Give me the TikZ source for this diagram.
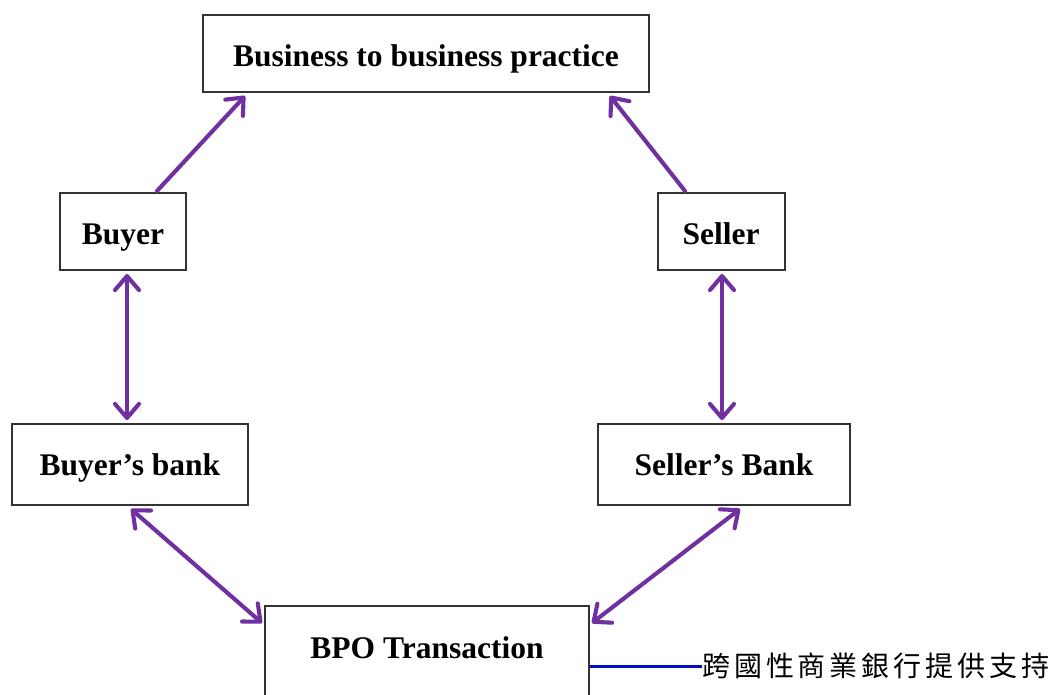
\documentclass[tikz,border=0pt]{standalone}
\usepackage{fontspec}
\setmainfont{Liberation Serif}
\newfontfamily\cjk[LetterSpace=14]{Noto Sans CJK TC}
\usetikzlibrary{arrows.meta}
\definecolor{arrpurple}{HTML}{7030A0}
\definecolor{linkblue}{HTML}{0010C0}
\tikzset{
  box/.style={draw=black!80, line width=1.3pt, fill=white},
  lbl/.style={anchor=base, inner sep=0pt, font=\fontsize{31.5}{34}\selectfont\bfseries},
  conn/.style={draw=arrpurple, line width=4.1pt, line cap=round, arrows={-Straight Barb[length=14pt,width=24pt,line cap=round,line join=round]}},
  dconn/.style={conn, arrows={Straight Barb[length=14pt,width=24pt,line cap=round,line join=round]-Straight Barb[length=14pt,width=24pt,line cap=round,line join=round]}},
}
\begin{document}
\begin{tikzpicture}[x=1pt,y=-1pt]
\useasboundingbox (0,0) rectangle (1055,695);
\draw[box] (203,15) rectangle (649,92);
\node[lbl] (top) at (426,67) {Business to business practice};
\coordinate (topL) at (245,96);
\coordinate (topR) at (610,96);
\draw[box] (60,193) rectangle (186,270);
\node[lbl] (buyer) at (123,245) {Buyer};
\draw[box] (658,193) rectangle (785,270);
\node[lbl] (seller) at (721,245) {Seller};
\draw[box] (12,424) rectangle (248,505);
\node[lbl] (bbank) at (130,475) {Buyer’s bank};
\draw[box] (598,424) rectangle (850,505);
\node[lbl] (sbank) at (724,475) {Seller’s Bank};
\draw[box] (265,606) rectangle (589,705);
\node[lbl] (bpo) at (427,658) {BPO Transaction};
\coordinate (buyerT) at (157,191);
\coordinate (sellerT) at (685,191);
\draw[conn] (buyerT) -- (topL);
\draw[conn] (sellerT) -- (topR);
\coordinate (b1) at (127,274);
\coordinate (b2) at (127,420);
\draw[dconn] (b1) -- (b2);
\coordinate (s1) at (722,274);
\coordinate (s2) at (722,420);
\draw[dconn] (s1) -- (s2);
\coordinate (bb) at (131,509);
\coordinate (bpoL) at (262,623);
\draw[dconn] (bb) -- (bpoL);
\coordinate (sb) at (740,509);
\coordinate (bpoR) at (592,623);
\draw[dconn] (sb) -- (bpoR);
\coordinate (bpoE) at (590,666);
\node[anchor=west, inner sep=0pt, font=\cjk\fontsize{28}{30}\selectfont] (note) at (702,666) {跨國性商業銀行提供支持};
\draw[linkblue, line width=3pt] (bpoE) -- (note.west);
\end{tikzpicture}
\end{document}
